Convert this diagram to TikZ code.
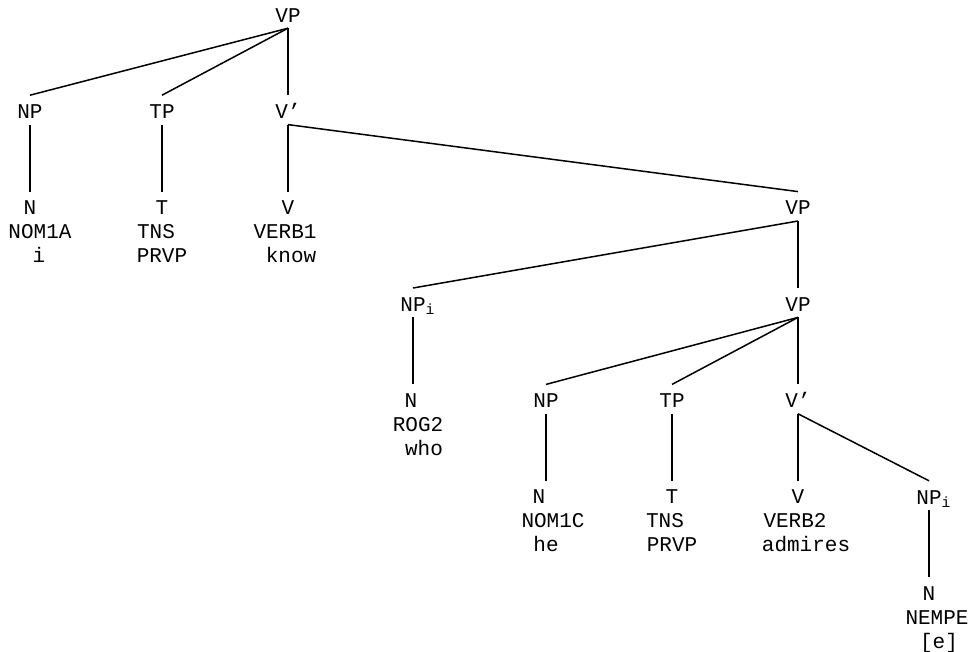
\documentclass[tikz,border=0pt]{standalone}
\usepackage{fontspec}
\setmainfont{Liberation Mono}
\usetikzlibrary{positioning}
% one line of a leaf, moved sideways from the branch by #1
\newcommand{\offs}[2]{\makebox[0pt]{\hspace{#1}\hspace{#1}#2}}
\begin{document}
\begin{tikzpicture}[x=1pt, y=1pt, node distance=67pt]
\tikzstyle{cat}    = [font=\fontsize{21}{24}\selectfont, inner xsep=2pt, inner ysep=6pt, text height=17pt, text depth=0pt]
\tikzstyle{leaf}   = [font=\fontsize{21}{24}\selectfont, inner xsep=0pt, inner ysep=9pt, align=center]
\tikzstyle{branch} = [line width=1.5pt]
\useasboundingbox (0,0) rectangle (968,-651);
%
\node (vp1)   [cat, anchor=base] at (288,-22)          {VP};
\node (np1)   [cat,  below=of vp1,   xshift=-258pt]   {NP};
\node (tp1)   [cat,  below=of vp1,   xshift=-126pt]   {TP};
\node (vbar1) [cat,  below=of vp1]                    {V’};
\node (n1)    [leaf, below=of np1]   {\offs{0pt}{N}\\\offs{10pt}{NOM1A}\\\offs{9pt}{i}};
\node (t1)    [leaf, below=of tp1]   {\offs{0pt}{T}\\\offs{-6pt}{TNS}\\\offs{0pt}{PRVP}};
\node (v1)    [leaf, below=of vbar1] {\offs{0pt}{V}\\\offs{-3pt}{VERB1}\\\offs{3pt}{know}};
\node (vp2)   [cat,  below=of vbar1, xshift=510pt]    {VP};
\node (npi1)  [cat,  below=of vp2,   xshift=-385pt]   {NP\rlap{\textsubscript{i}}};
\node (vp3)   [cat,  below=of vp2]                    {VP};
\node (n2)    [leaf, below=of npi1]  {\offs{-2pt}{N}\\\offs{5pt}{ROG2}\\\offs{11pt}{who}};
\node (np2)   [cat,  below=of vp3,   xshift=-252pt]   {NP};
\node (tp2)   [cat,  below=of vp3,   xshift=-126pt]   {TP};
\node (vbar2) [cat,  below=of vp3]                    {V’};
\node (n3)    [leaf, below=of np2]   {\offs{-7pt}{N}\\\offs{7pt}{NOM1C}\\\offs{0pt}{he}};
\node (t2)    [leaf, below=of tp2]   {\offs{0pt}{T}\\\offs{-7pt}{TNS}\\\offs{0pt}{PRVP}};
\node (v2)    [leaf, below=of vbar2] {\offs{0pt}{V}\\\offs{-3pt}{VERB2}\\\offs{8pt}{admires}};
\node (npi2)  [cat,  below=of vbar2, xshift=131pt]    {NP\rlap{\textsubscript{i}}};
\node (n4)    [leaf, below=of npi2]  {\offs{0pt}{N}\\\offs{8pt}{NEMPE}\\\offs{10pt}{[e]}};
%
\draw [branch] (vp1.south)   -- (np1.north);
\draw [branch] (vp1.south)   -- (tp1.north);
\draw [branch] (vp1.south)   -- (vbar1.north);
\draw [branch] (np1.south)   -- (n1.north);
\draw [branch] (tp1.south)   -- (t1.north);
\draw [branch] (vbar1.south) -- (v1.north);
\draw [branch] (vbar1.south) -- (vp2.north);
\draw [branch] (vp2.south)   -- (npi1.north);
\draw [branch] (vp2.south)   -- (vp3.north);
\draw [branch] (npi1.south)  -- (n2.north);
\draw [branch] (vp3.south)   -- (np2.north);
\draw [branch] (vp3.south)   -- (tp2.north);
\draw [branch] (vp3.south)   -- (vbar2.north);
\draw [branch] (np2.south)   -- (n3.north);
\draw [branch] (tp2.south)   -- (t2.north);
\draw [branch] (vbar2.south) -- (v2.north);
\draw [branch] (vbar2.south) -- (npi2.north);
\draw [branch] (npi2.south)  -- (n4.north);
\end{tikzpicture}
\end{document}
